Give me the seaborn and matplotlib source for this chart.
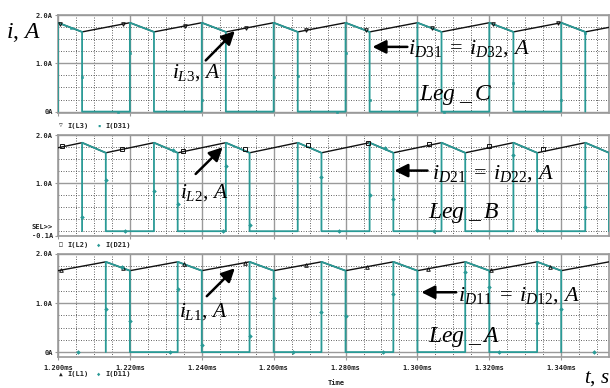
import numpy as np
import matplotlib
matplotlib.use("Agg")
import matplotlib.pyplot as plt
import matplotlib.transforms as mtransforms
from matplotlib.ticker import MultipleLocator, FixedLocator, FuncFormatter
import seaborn as sns

# vertices of the inductor currents (time in ms, current in A)
# Leg C
t_L3 = [1.2000, 1.2067, 1.2200, 1.2267, 1.2400, 1.2467, 1.2600, 1.2667, 1.2800,
        1.2867, 1.3000, 1.3067, 1.3200, 1.3267, 1.3400, 1.3467, 1.3600]
i_L3 = [1.84, 1.65, 1.84, 1.65, 1.84, 1.65, 1.84, 1.65, 1.84,
        1.65, 1.84, 1.65, 1.84, 1.65, 1.84, 1.65, 1.84]
# Leg B
t_L2 = [1.1933, 1.2067, 1.2133, 1.2267, 1.2333, 1.2467, 1.2533, 1.2667, 1.2733,
        1.2867, 1.2933, 1.3067, 1.3133, 1.3267, 1.3333, 1.3467, 1.3533, 1.3667]
i_L2 = [1.63, 1.84, 1.63, 1.84, 1.63, 1.84, 1.63, 1.84, 1.63,
        1.84, 1.63, 1.84, 1.63, 1.84, 1.63, 1.84, 1.63, 1.84]
# Leg A
t_L1 = [1.2000, 1.2133, 1.2200, 1.2333, 1.2400, 1.2533, 1.2600, 1.2733, 1.2800,
        1.2933, 1.3000, 1.3133, 1.3200, 1.3333, 1.3400, 1.3533]
i_L1 = [1.66, 1.84, 1.66, 1.84, 1.66, 1.84, 1.66, 1.84, 1.66,
        1.84, 1.66, 1.84, 1.66, 1.84, 1.66, 1.84]

# PSpice trace symbols (sample points that carry a marker)
mk_t_L3 = [1.2006, 1.2181, 1.2353, 1.2522, 1.2690, 1.2857, 1.3040, 1.3210, 1.3390]
mk_i_L3 = [1.82, 1.81, 1.77, 1.73, 1.68, 1.68, 1.73, 1.81, 1.83]
mk_t_D31 = [1.2035, 1.2067, 1.2167, 1.2200, 1.2400, 1.2600, 1.2667, 1.2775,
            1.2800, 1.2867, 1.3075, 1.3200, 1.3267, 1.3400, 1.3467]
mk_i_D31 = [1.74, 0.72, 0.0, 1.22, 0.25, 0.72, 0.74, 0.0,
            1.21, 0.25, 0.0, 1.21, 0.60, 0.25, 1.62]

mk_t_L2 = [1.2010, 1.2177, 1.2348, 1.2521, 1.2695, 1.2862, 1.3033, 1.3200, 1.3348]
mk_i_L2 = [1.77, 1.71, 1.67, 1.70, 1.79, 1.84, 1.81, 1.77, 1.70]
mk_t_D21 = [1.2067, 1.2133, 1.2186, 1.2267, 1.2320, 1.2333, 1.2458, 1.2467,
            1.2533, 1.2733, 1.2781, 1.2867, 1.2911, 1.2933, 1.3045, 1.3267,
            1.3333, 1.3467]
mk_i_D21 = [0.30, 1.06, 0.0, 0.84, 1.69, 0.57, 0.0, 1.36,
            0.13, 1.13, 0.0, 0.75, 1.74, 0.66, 0.0, 1.58,
            0.02, 0.51]

mk_t_L1 = [1.2008, 1.2180, 1.2350, 1.2519, 1.2690, 1.2860, 1.3030, 1.3205, 1.3370]
mk_i_L1 = [1.67, 1.71, 1.80, 1.82, 1.78, 1.74, 1.70, 1.67, 1.74]
mk_t_D11 = [1.2056, 1.2133, 1.2177, 1.2200, 1.2311, 1.2333, 1.2400, 1.2533,
            1.2600, 1.2654, 1.2733, 1.2800, 1.2904, 1.2933, 1.3133, 1.3200,
            1.3226, 1.3333, 1.3400, 1.3492]
mk_i_D11 = [0.0, 0.87, 1.73, 0.63, 0.0, 1.28, 0.14, 0.33,
            1.10, 0.0, 0.82, 0.73, 0.0, 1.18, 1.64, 1.33,
            0.0, 0.59, 0.87, 0.0]

x_ticks = [1.20, 1.22, 1.24, 1.26, 1.28, 1.30, 1.32, 1.34]

TEAL = "#2a9a96"
INK = "#111111"
GRID_MAJ = "#9a9a9a"
GRID_MIN = "#505050"


def diode_trace(t, i):
    # diode conducts the inductor current on the falling slopes, zero otherwise
    td, idd = [], []
    for k in range(len(t) - 1):
        if i[k] > i[k + 1]:
            td += [t[k], t[k], t[k + 1], t[k + 1]]
            idd += [0.0, i[k], i[k + 1], 0.0]
    return td, idd


sns.set_style("white")
plt.rcParams["font.family"] = ["DejaVu Sans Mono"]
plt.rcParams["mathtext.fontset"] = "custom"
plt.rcParams["mathtext.it"] = "Liberation Serif:italic"
plt.rcParams["mathtext.rm"] = "Liberation Serif"
plt.rcParams["mathtext.cal"] = "Liberation Serif:italic"

W, H = 610, 388
fig = plt.figure(figsize=(6.1, 3.88), dpi=100)


def px_rect(top, bottom, left=58, right=609):
    return [left / W, (H - bottom) / H, (right - left) / W, (bottom - top) / H]


ax1 = fig.add_axes(px_rect(15, 113.3))
ax2 = fig.add_axes(px_rect(135, 236))
ax3 = fig.add_axes(px_rect(254, 357))

panels = [
    (ax1, t_L3, i_L3, mk_t_L3, mk_i_L3, "v", 2.6, mk_t_D31, mk_i_D31, "s", 1.8, (-0.035, 2.0)),
    (ax2, t_L2, i_L2, mk_t_L2, mk_i_L2, "s", 2.4, mk_t_D21, mk_i_D21, "D", 1.9, (-0.1, 2.0)),
    (ax3, t_L1, i_L1, mk_t_L1, mk_i_L1, "^", 2.6, mk_t_D11, mk_i_D11, "D", 1.9, (-0.1, 2.0)),
]

for ax, t, i, mlt, mli, mk_l, ms_l, mdt, mdi, mk_d, ms_d, ylim in panels:
    td, idd = diode_trace(t, i)
    sns.lineplot(x=t, y=i, ax=ax, sort=False, estimator=None, legend=False,
                 color=INK, lw=1.0, zorder=3)
    sns.lineplot(x=td, y=idd, ax=ax, sort=False, estimator=None, legend=False,
                 color=TEAL, lw=1.3, zorder=4)
    sns.lineplot(x=mlt, y=mli, ax=ax, sort=False, estimator=None, legend=False,
                 ls="", marker=mk_l, markersize=ms_l, markerfacecolor="none",
                 markeredgecolor=INK, markeredgewidth=0.7, zorder=5)
    sns.lineplot(x=mdt, y=mdi, ax=ax, sort=False, estimator=None, legend=False,
                 ls="", marker=mk_d, markersize=ms_d, markerfacecolor=TEAL,
                 markeredgecolor=TEAL, markeredgewidth=0.4, zorder=5)
    ax.set_xlim(1.2, 1.3533)
    ax.set_ylim(*ylim)
    ax.xaxis.set_major_locator(FixedLocator(x_ticks))
    ax.xaxis.set_minor_locator(MultipleLocator(0.005))
    ax.yaxis.set_minor_locator(MultipleLocator(0.25))
    ax.grid(which="major", color=GRID_MAJ, lw=1.0, ls="-", zorder=0)
    ax.grid(which="minor", color=GRID_MIN, lw=0.6, ls=(0, (1.2, 1.8)), zorder=0)
    ax.set_axisbelow(True)
    for s in ax.spines.values():
        s.set_color(GRID_MAJ)
        s.set_linewidth(1.2)
    ax.tick_params(axis="both", which="major", length=2.5, width=0.8,
                   color=GRID_MAJ, labelsize=5, pad=1.2, labelcolor="#222222")
    ax.tick_params(axis="both", which="minor", length=0)
    ax.tick_params(axis="x", which="major", bottom=True, pad=3.5)
    ax.tick_params(axis="y", which="major", left=True)
    ax.set_xlabel("")
    ax.set_ylabel("")

# y tick labels in PSpice style
ax1.yaxis.set_major_locator(FixedLocator([0, 1, 2]))
ax1.set_yticklabels(["0A", "1.0A", "2.0A"], fontweight="bold")
ax2.yaxis.set_major_locator(FixedLocator([-0.1, 1, 2]))
ax2.set_yticklabels(["-0.1A", "1.0A", "2.0A"], fontweight="bold")
ax3.yaxis.set_major_locator(FixedLocator([0, 1, 2]))
ax3.set_yticklabels(["0A", "1.0A", "2.0A"], fontweight="bold")
for ax in (ax1, ax2):
    ax.set_xticklabels([])
ax3.xaxis.set_major_formatter(FuncFormatter(lambda v, p: f"{v:.3f}ms"))
for lab in ax3.get_xticklabels():
    lab.set_fontweight("bold")

tr2 = mtransforms.blended_transform_factory(ax2.transAxes, ax2.transData)
ax2.text(-0.009, 0.09, "SEL>>", transform=tr2, ha="right", va="center",
         fontsize=5, fontweight="bold", color="#222222")


# legend rows under each panel
def legend_row(y, mk_l, name_l, mk_d, name_d):
    yy = (H - y) / H
    fig.text(61 / W, yy, mk_l, ha="center", va="center", fontsize=4.5, color="#222222")
    fig.text(67 / W, yy, name_l, ha="left", va="center", fontsize=5,
             fontweight="bold", color="#222222")
    fig.text(99 / W, yy, mk_d, ha="center", va="center", fontsize=4, color=TEAL)
    fig.text(105 / W, yy, name_d, ha="left", va="center", fontsize=5,
             fontweight="bold", color="#222222")


legend_row(126, "\u25bd", "I(L3)", "\u25aa", "I(D31)")
legend_row(245, "\u25a1", "I(L2)", "\u25c6", "I(D21)")
legend_row(374, "\u25b2", "I(L1)", "\u25c6", "I(D11)")

fig.text(336 / W, (H - 383) / H, "Time", ha="center", va="center",
         fontsize=5, fontweight="bold", color="#222222")

# hand-added annotations
serif = dict(color="black", family=["Liberation Serif"])
fig.text(6 / W, (H - 33) / H, r"$i,\,A$", ha="left", va="center", fontsize=17, **serif)
fig.text(584 / W, (H - 378) / H, r"$t,\,s$", ha="left", va="center", fontsize=15, **serif)

arrow = dict(arrowstyle="-|>", color="black", lw=1.8, mutation_scale=20,
             shrinkA=0, shrinkB=0)

notes = [
    (ax1, "L3", "D31", "D32", "C",
     (1.2492, 1.67), (1.2411, 1.06), (1.2318, 0.80),
     (1.2875, 1.34), (1.2972, 1.34), (1.2975, 1.30), (1.3106, 0.34)),
    (ax2, "L2", "D21", "D22", "B",
     (1.2458, 1.745), (1.2383, 1.19), (1.2340, 0.80),
     (1.2936, 1.26), (1.3028, 1.26), (1.3040, 1.20), (1.3128, 0.38)),
    (ax3, "L1", "D11", "D12", "A",
     (1.2492, 1.71), (1.2414, 1.14), (1.2337, 0.82),
     (1.3011, 1.22), (1.3108, 1.22), (1.3113, 1.16), (1.3128, 0.31)),
]

for ax, lname, d1, d2, leg, head, tail, txt, dhead, dtail, dtxt, legpos in notes:
    ax.annotate("", xy=head, xytext=tail, arrowprops=arrow, zorder=6)
    ax.text(*txt, rf"$i_{{{lname}}},\,A$", ha="left", va="center",
            fontsize=15.5, zorder=6, **serif)
    ax.annotate("", xy=dhead, xytext=dtail, arrowprops=arrow, zorder=6)
    ax.text(*dtxt, rf"$i_{{{d1}}}\;=\;i_{{{d2}}},\,A$", ha="left", va="center",
            fontsize=16, zorder=6, **serif)
    ax.text(*legpos, rf"$Leg\;\_\,{leg}$", ha="center", va="center",
            fontsize=17, zorder=6, **serif)

fig.savefig("out.png", dpi=100, facecolor="white")
